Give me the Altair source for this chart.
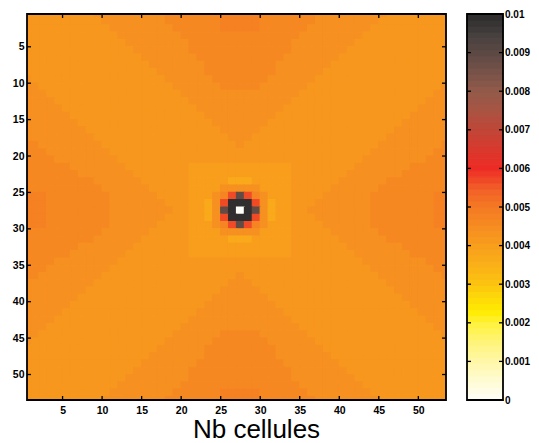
import altair as alt
import pandas as pd

# Quarter of the (symmetric) map: one character per cell,
# rows/cols 0..27 from the top-left corner to the centre cell.
QUARTER = [
    "1111111112222222223333333444",
    "1111111111222222223333333444",
    "1111111111122222222333333444",
    "1111111111112222222233333333",
    "1111111111111222222223333333",
    "1111111111111122222223333333",
    "1111111111111112222222333333",
    "1111111111111111222222233333",
    "1111111111111111122222233333",
    "2111111111111111112222223333",
    "2211111111111111111222222333",
    "2221111111111111111122222222",
    "2222111111111111111112222222",
    "2222211111111111111111222222",
    "2222221111111111111111122222",
    "2222222111111111111111112222",
    "2222222211111111111111111222",
    "2222222221111111111111111122",
    "3322222222111111111111111112",
    "3332222222211111111111111111",
    "3333222222221111111111111111",
    "3333332222222111111115555555",
    "3333333222222211111115555555",
    "3333333332222221111115555566",
    "3333333333222222111115555aaa",
    "444333333332222221111555ab78",
    "444333333332222222111556a799",
    "444333333332222222211556a89w",
]
LEVELS = {"1": 0.0042, "2": 0.0044, "3": 0.0046, "4": 0.0048, "5": 0.0040,
          "6": 0.0037, "a": 0.0044, "b": 0.0047, "7": 0.0057, "8": 0.0089,
          "9": 0.0099, "w": 0.0}

TICKS = [5, 10, 15, 20, 25, 30, 35, 40, 45, 50]
CB_TICKS = [0, 0.001, 0.002, 0.003, 0.004, 0.005, 0.006, 0.007, 0.008, 0.009, 0.01]
CB_INNER = [0.001, 0.002, 0.003, 0.004, 0.005, 0.006, 0.007, 0.008, 0.009]

CMAP_STOPS = [0, 0.0005, 0.001, 0.0015, 0.002, 0.0023, 0.0027, 0.003, 0.0035, 0.004,
              0.0045, 0.005, 0.0055, 0.006, 0.0065, 0.007, 0.0075, 0.008, 0.0085,
              0.009, 0.0095, 0.01]
CMAP_COLORS = ["#fffffa", "#fffbd4", "#fff7a8", "#fff47a", "#fff23c", "#ffeb00",
               "#fdd70a", "#fcc40f", "#fab118", "#f89e1c", "#f68c21", "#f47a25",
               "#f15e28", "#ee2b25", "#d8392d", "#c04638", "#a95442", "#925a4a",
               "#785249", "#5c4944", "#443f3e", "#2c2a2b"]

for r in QUARTER:
    if len(r) != 28:
        raise ValueError("bad row " + r)

N = 54
recs = []
for ky in range(N):
    my = ky if ky <= 27 else 54 - ky
    for kx in range(N):
        mx = kx if kx <= 27 else 54 - kx
        recs.append({"x0": kx, "x1": kx + 1, "y0": ky, "y1": ky + 1,
                     "value": LEVELS[QUARTER[my][mx]]})
df = pd.DataFrame(recs)

NB = 64
cb_df = pd.DataFrame({
    "lo": [i * 0.01 / NB for i in range(NB)],
    "hi": [(i + 1) * 0.01 / NB for i in range(NB)],
    "mid": [(i + 0.5) * 0.01 / NB for i in range(NB)],
})

W, H = 419, 386
GAP, CB_W = 21, 36
CB_X0, CB_X1 = W + GAP, W + GAP + CB_W
FONT = "Liberation Sans"

cscale = alt.Scale(type="linear", domain=CMAP_STOPS, range=CMAP_COLORS,
                   interpolate="rgb", clamp=True)
xs = alt.Scale(domain=[0.5, 53.5], nice=False, zero=False)
ys = alt.Scale(domain=[0.5, 53.5], nice=False, zero=False, reverse=True)

x_axis = alt.Axis(
    values=TICKS, ticks=False, domain=False, grid=False, labelPadding=5,
    labelFont=FONT, labelFontWeight="bold", labelFontSize=10.5, labelColor="black",
    title="Nb cellules", titleFont=FONT, titleFontSize=26, titleFontWeight="normal",
    titleColor="black", titleX=229, titleY=37.5, titleAlign="center",
    titleBaseline="alphabetic")
y_axis = alt.Axis(
    orient="left", values=TICKS, ticks=False, domain=False, grid=False, labelPadding=3,
    labelFont=FONT, labelFontWeight="bold", labelFontSize=10.5, labelColor="black",
    title="")

cells = alt.Chart(df).mark_rect(clip=True, strokeWidth=1.2).encode(
    x=alt.X("x0:Q", scale=xs, axis=x_axis, title="Nb cellules"),
    x2="x1:Q",
    y=alt.Y("y0:Q", scale=ys, axis=y_axis, title=""),
    y2="y1:Q",
    color=alt.Color("value:Q", scale=cscale, legend=None),
    stroke=alt.Stroke("value:Q", scale=cscale, legend=None),
)

tick_df = pd.DataFrame({"t": TICKS})
tick_style = dict(color="black", strokeWidth=1.3)
t_bottom = alt.Chart(tick_df).mark_rule(**tick_style).encode(
    x=alt.X("t:Q", scale=xs, axis=x_axis, title="Nb cellules"),
    y=alt.value(H), y2=alt.value(H - 4))
t_top = alt.Chart(tick_df).mark_rule(**tick_style).encode(
    x=alt.X("t:Q", scale=xs, axis=x_axis, title="Nb cellules"),
    y=alt.value(0), y2=alt.value(4))
t_left = alt.Chart(tick_df).mark_rule(**tick_style).encode(
    y=alt.Y("t:Q", scale=ys, axis=y_axis, title=""),
    x=alt.value(0), x2=alt.value(4))
t_right = alt.Chart(tick_df).mark_rule(**tick_style).encode(
    y=alt.Y("t:Q", scale=ys, axis=y_axis, title=""),
    x=alt.value(W - 4), x2=alt.value(W))
one = pd.DataFrame({"a": [0]})
frame = alt.Chart(one).mark_rect(fillOpacity=0, stroke="black", strokeWidth=1.8).encode(
    x=alt.value(0), x2=alt.value(W), y=alt.value(0), y2=alt.value(H))

heat = alt.layer(cells, t_bottom, t_top, t_left, t_right, frame)

cbs = alt.Scale(domain=[0, 0.01], nice=False, zero=False)
cb_axis = alt.Axis(
    orient="right", offset=GAP + CB_W, values=CB_TICKS, format="~g", ticks=False,
    domain=False, grid=False, labelPadding=1.5, labelFlush=False, labelFont=FONT,
    labelFontWeight="bold", labelFontSize=10, labelColor="black", title="")
cb_rect = alt.Chart(cb_df).mark_rect(strokeWidth=1).encode(
    y=alt.Y("lo:Q", scale=cbs, axis=cb_axis, title=""),
    y2="hi:Q",
    x=alt.value(CB_X0), x2=alt.value(CB_X1),
    color=alt.Color("mid:Q", scale=cscale, legend=None),
    stroke=alt.Stroke("mid:Q", scale=cscale, legend=None),
)
cbt_df = pd.DataFrame({"t": CB_INNER})
cb_tl = alt.Chart(cbt_df).mark_rule(**tick_style).encode(
    y=alt.Y("t:Q", scale=cbs, axis=cb_axis, title=""),
    x=alt.value(CB_X0), x2=alt.value(CB_X0 + 4))
cb_tr = alt.Chart(cbt_df).mark_rule(**tick_style).encode(
    y=alt.Y("t:Q", scale=cbs, axis=cb_axis, title=""),
    x=alt.value(CB_X1 - 4), x2=alt.value(CB_X1))
cb_frame = alt.Chart(one).mark_rect(fillOpacity=0, stroke="black", strokeWidth=1.8).encode(
    x=alt.value(CB_X0), x2=alt.value(CB_X1), y=alt.value(0), y2=alt.value(H))
cbar = alt.layer(cb_rect, cb_tl, cb_tr, cb_frame)

SVG_W, SVG_H = 523, 435
PAD_L, PAD_T = 19, 6
chart = alt.layer(heat, cbar).resolve_scale(
    y="independent", color="independent", stroke="independent"
).properties(
    width=W, height=H,
    autosize=alt.AutoSizeParams(type="none"),
    padding={"left": PAD_L, "top": PAD_T, "right": SVG_W - PAD_L - W,
             "bottom": SVG_H - PAD_T - H},
).configure_view(stroke=None).configure(background="white")

chart.save("out.html", embed_options={"renderer": "svg", "actions": False})
